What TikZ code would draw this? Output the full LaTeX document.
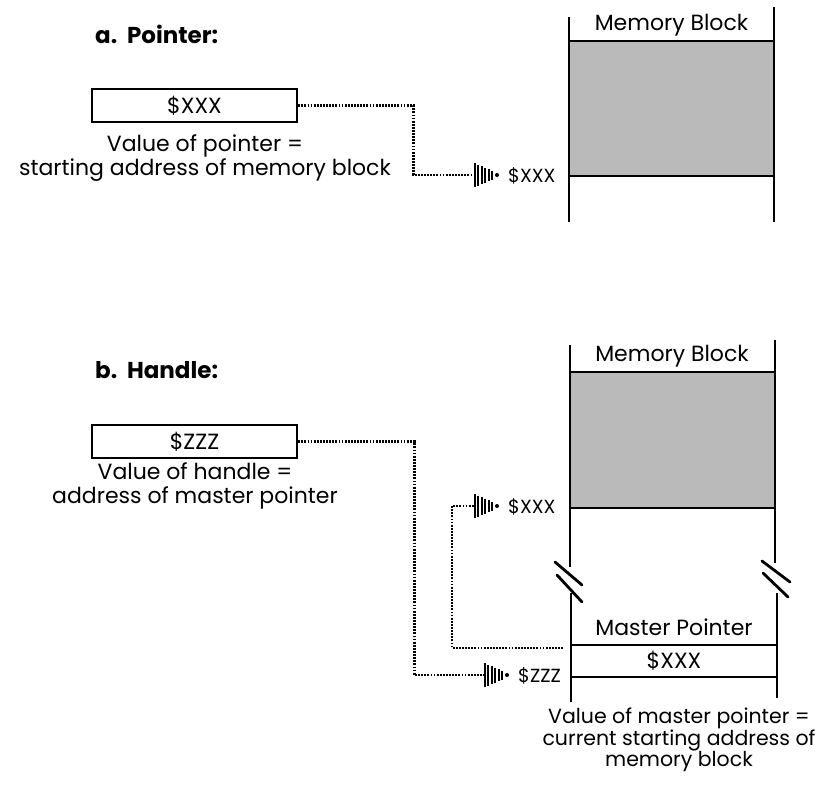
\documentclass[tikz,border=0pt]{standalone}
\usepackage{fontspec}
\setmainfont{Poppins}
\usetikzlibrary{positioning}

\tikzset{
    memline/.style={line width=2.8pt},
    brkline/.style={line width=2.8pt,line cap=round},
    dotline/.style={line width=2.8pt,dash pattern=on 1.8pt off 1.3pt},
    txt/.style={font=\fontsize{22}{24}\selectfont,align=center,inner sep=0pt},
    heading/.style={font=\fontsize{23}{26}\selectfont\bfseries,anchor=west,inner sep=0pt},
    valbox/.style={draw,line width=2.4pt,minimum width=205pt,minimum height=33pt,
        inner sep=0pt,font=\fontsize{22}{24}\selectfont},
    addr/.style={font=\fontsize{19}{22}\selectfont,anchor=west,inner sep=0pt},
    barhead/.pic={
        \foreach \i/\h in {0/12,1/10.5,2/9,3/7.5,4/6,5/4.5}
            \draw[line width=2pt] (\i*3.4,-\h) -- (\i*3.4,\h);
        \fill (22,0) circle[radius=2];
    }
}

\begin{document}
\begin{tikzpicture}[x=1pt,y=-1pt]

    \useasboundingbox (0,0) rectangle (822,785);

    % a. pointer
    \node[heading] (ptrhead) at (95,34) {a.\ \ Pointer:};
    \node[valbox] (ptrbox) at (194.5,105.5) {\$XXX};
    \node[txt] (ptrnote) at (205,158) {Value of pointer =\\starting address of memory block};

    \fill[black!27] (569,41) rectangle (774,176);
    \draw[memline] (569,17) -- (569,222);
    \draw[memline] (774,7) -- (774,222);
    \draw[memline] (569,41) -- (774,41);
    \draw[memline] (569,176) -- (774,176);
    \node[txt] (memA) at (671.5,25) {Memory Block};

    \coordinate (tipA) at (475,175);
    \node[addr] (adrA) at (508,176) {\$XXX};
    \draw[dotline] (ptrbox.east) -- ++(115,0) |- (tipA);
    \pic at (tipA) {barhead};

    % b. handle
    \node[heading] (hdlhead) at (95,370) {b.\ \ Handle:};
    \node[valbox] (hdlbox) at (194.5,441.5) {\$ZZZ};
    \node[txt] (hdlnote) at (195,486) {Value of handle =\\address of master pointer};

    \fill[black!27] (570,372) rectangle (775,508);
    \draw[memline] (570,345) -- (570,567);
    \draw[memline] (775,340) -- (775,563);
    \draw[memline] (570,372) -- (775,372);
    \draw[memline] (570,508) -- (775,508);
    \node[txt] (memB) at (672,356) {Memory Block};

    \draw[brkline] (555,562) -- (582,585);
    \draw[brkline] (557,575) -- (582,602);
    \draw[brkline] (762,561) -- (790,582);
    \draw[brkline] (763,573) -- (788,597);

    \draw[memline] (571,593) -- (571,702);
    \draw[memline] (777,593) -- (777,698);
    \draw[memline] (571,645) -- (777,645);
    \draw[memline] (571,677) -- (777,677);
    \node[txt] (mphead) at (674,627) {Master Pointer};
    \node[txt] (mpval) at (674,661) {\$XXX};
    \node[txt,font=\fontsize{20.5}{21.5}\selectfont] (mpnote) at (679,740)
        {Value of master pointer =\\current starting address of\\memory block};

    \coordinate (tipB) at (485,675);
    \node[addr] (adrB) at (518,676) {\$ZZZ};
    \draw[dotline] (hdlbox.east) -- ++(116,0) |- (tipB);
    \pic at (tipB) {barhead};

    \coordinate (mpout) at (563,648);
    \coordinate (tipC) at (475,506);
    \node[addr] (adrC) at (508,507) {\$XXX};
    \draw[dotline] (mpout) -- ++(-111,0) |- (tipC);
    \pic at (tipC) {barhead};

\end{tikzpicture}
\end{document}
